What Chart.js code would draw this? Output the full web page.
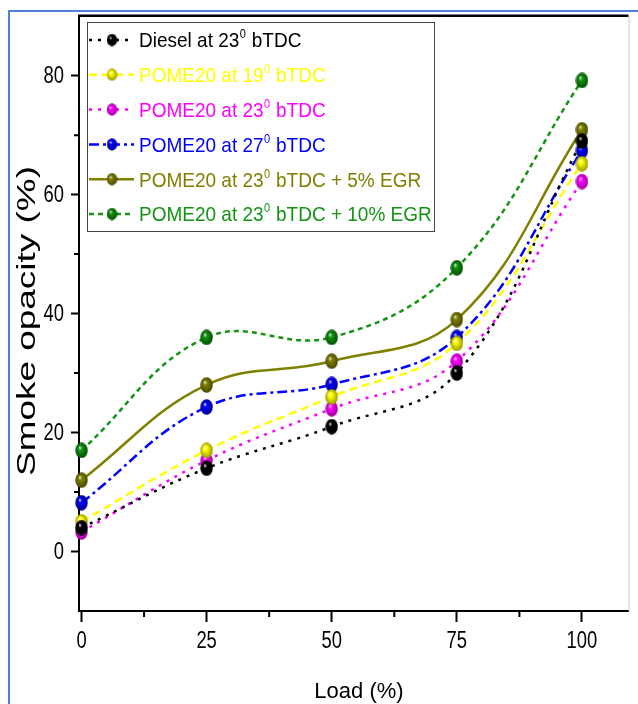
<!DOCTYPE html>
<html lang="en">
<head>
  <meta charset="UTF-8">
  <title>Smoke opacity vs load</title>
  <script src="https://cdn.jsdelivr.net/npm/chart.js"></script>
  <style>
    html, body { margin: 0; padding: 0; background: #fff; }
    #wrap { width: 638px; height: 704px; }
  </style>
</head>
<body>
  <div id="wrap"><canvas id="smokeChart" width="638" height="704"></canvas></div>

  <script>
    // data
    const loads = [0, 25, 50, 75, 100];
    const diesel23 = [4, 14, 21, 30, 69];
    const pome19 = [5, 17, 26, 35, 65.2];
    const pome23 = [3.3, 15.3, 24, 32, 62.2];
    const pome27 = [8.2, 24.3, 28.1, 36, 67.4];
    const pome23egr5 = [12, 28, 32, 39, 70.9];
    const pome23egr10 = [17, 36, 36, 47.7, 79.2];

    const seriesNames = [
      'Diesel at 23⁰ bTDC',
      'POME20 at 19⁰ bTDC',
      'POME20 at 23⁰ bTDC',
      'POME20 at 27⁰ bTDC',
      'POME20 at 23⁰ bTDC + 5% EGR',
      'POME20 at 23⁰ bTDC + 10% EGR'
    ];
    const seriesValues = [diesel23, pome19, pome23, pome27, pome23egr5, pome23egr10];

    const xTicks = [0, 25, 50, 75, 100];
    const yTicks = [0, 20, 40, 60, 80];
    const xMinor = [12.5, 37.5, 62.5, 87.5];
    const yMinor = [10, 30, 50, 70];

    // styles
    const colors = ['#000000', '#ffff00', '#ff00ff', '#0000ff', '#808000', '#149414'];
    const darks = ['#000000', '#9a9a00', '#a000a0', '#000090', '#4a4a00', '#005000'];
    const dashes = [[3, 6], [8, 5], [3, 6], [10, 4, 3, 4], [], [5, 4]];
    const FONT = '"Liberation Sans", Arial, sans-serif';

    function ball(color, dark, w, h) {
      const c = document.createElement('canvas');
      c.width = w; c.height = h;
      const g = c.getContext('2d');
      g.translate(w / 2, h / 2);
      g.scale(1, h / w);
      const r = w / 2 - 0.3;
      const grad = g.createRadialGradient(-r * 0.3, -r * 0.4, 0, 0, 0, r);
      grad.addColorStop(0, '#ffffff');
      grad.addColorStop(0.3, color);
      grad.addColorStop(1, dark);
      g.fillStyle = grad;
      g.beginPath();
      g.arc(0, 0, r, 0, Math.PI * 2);
      g.fill();
      return c;
    }

    const balls = colors.map((c, i) => ball(c, darks[i], 13, 16));
    const legendBalls = colors.map((c, i) => ball(c, darks[i], 11, 13));

    function drawRich(ctx, text, x, y, color) {
      const parts = text.split('⁰');
      ctx.save();
      ctx.translate(x, y);
      ctx.scale(1, 1.1);
      ctx.fillStyle = color;
      ctx.textBaseline = 'alphabetic';
      ctx.textAlign = 'left';
      let cx = 0;
      parts.forEach((p, i) => {
        ctx.font = '19px ' + FONT;
        ctx.fillText(p, cx, 6.8);
        cx += ctx.measureText(p).width;
        if (i < parts.length - 1) {
          ctx.font = '11px ' + FONT;
          ctx.fillText('0', cx + 0.5, -1.5);
          cx += ctx.measureText('0').width + 1;
        }
      });
      ctx.restore();
    }

    // narrow tick label: normal font squeezed sideways
    function narrowText(ctx, text, x, y, align) {
      ctx.save();
      ctx.translate(x, y);
      ctx.scale(0.8, 1);
      ctx.textAlign = align;
      ctx.textBaseline = 'middle';
      ctx.fillText(text, 0, 0);
      ctx.restore();
    }

    const decor = {
      id: 'decor',
      beforeDraw(chart) {
        const ctx = chart.ctx;
        ctx.save();
        ctx.fillStyle = '#fff';
        ctx.fillRect(0, 0, chart.width, chart.height);
        ctx.strokeStyle = '#4f81d4';
        ctx.lineWidth = 2;
        ctx.beginPath();
        ctx.moveTo(9, 704);
        ctx.lineTo(9, 11);
        ctx.lineTo(638, 11);
        ctx.stroke();
        ctx.restore();
      },
      afterDraw(chart) {
        const ctx = chart.ctx;
        const a = chart.chartArea;
        const xs = chart.scales.x, ys = chart.scales.y;
        ctx.save();
        // frame top and right
        ctx.strokeStyle = '#000';
        ctx.lineWidth = 2.5;
        ctx.beginPath();
        ctx.moveTo(a.left - 1, a.top - 0.5);
        ctx.lineTo(a.right, a.top - 0.5);
        ctx.stroke();
        ctx.strokeStyle = '#c8c8c8';
        ctx.lineWidth = 1;
        ctx.beginPath();
        ctx.moveTo(a.right + 0.5, a.top);
        ctx.lineTo(a.right + 0.5, a.bottom);
        ctx.stroke();

        // minor ticks
        ctx.strokeStyle = '#000';
        ctx.lineWidth = 2;
        ctx.beginPath();
        xMinor.forEach(v => {
          const px = xs.getPixelForValue(v);
          ctx.moveTo(px, a.bottom);
          ctx.lineTo(px, a.bottom + 6);
        });
        yMinor.forEach(v => {
          const py = ys.getPixelForValue(v);
          ctx.moveTo(a.left, py);
          ctx.lineTo(a.left - 5, py);
        });
        ctx.stroke();

        // tick labels
        ctx.fillStyle = '#000';
        ctx.font = '23px ' + FONT;
        xs.ticks.forEach(t => narrowText(ctx, String(t.value), xs.getPixelForValue(t.value), 642, 'center'));
        ys.ticks.forEach(t => narrowText(ctx, String(t.value), 64, ys.getPixelForValue(t.value) + 1, 'right'));

        // axis titles
        ctx.font = '22px ' + FONT;
        ctx.textAlign = 'center';
        ctx.textBaseline = 'alphabetic';
        ctx.fillText('Load (%)', 359, 698);

        ctx.save();
        ctx.translate(35, 321);
        ctx.rotate(-Math.PI / 2);
        ctx.font = '25px ' + FONT;
        const yTitle = 'Smoke opacity (%)';
        const w = ctx.measureText(yTitle).width;
        ctx.scale(310 / w, 1);
        ctx.fillText(yTitle, 0, 0);
        ctx.restore();

        // legend
        const lx = 87, ly = 22, lw = 347, lh = 209;
        ctx.fillStyle = '#fff';
        ctx.fillRect(lx, ly, lw, lh);
        ctx.strokeStyle = '#444';
        ctx.lineWidth = 1;
        ctx.strokeRect(lx + 0.5, ly + 0.5, lw, lh);
        seriesNames.forEach((name, i) => {
          const y = 40 + i * 34.8;
          ctx.strokeStyle = colors[i];
          ctx.lineWidth = 2.5;
          ctx.setLineDash(dashes[i]);
          ctx.beginPath();
          ctx.moveTo(89, y);
          ctx.lineTo(134, y);
          ctx.stroke();
          ctx.setLineDash([]);
          const b = legendBalls[i];
          ctx.drawImage(b, 112 - b.width / 2, y - b.height / 2);
          drawRich(ctx, name, 139, y, colors[i]);
        });
        ctx.restore();
      }
    };

    new Chart(document.getElementById('smokeChart'), {
      type: 'line',
      data: {
        datasets: seriesValues.map((vals, i) => ({
          label: seriesNames[i],
          data: loads.map((x, j) => ({ x: x, y: vals[j] })),
          borderColor: colors[i],
          borderWidth: 2.5,
          borderDash: dashes[i],
          tension: 0.4,
          fill: false,
          clip: false,
          pointStyle: balls[i],
          pointRadius: 7,
          pointHoverRadius: 7
        }))
      },
      options: {
        responsive: false,
        animation: false,
        events: [],
        layout: { padding: { top: 15, right: 2, left: 0, bottom: 0 } },
        plugins: {
          legend: { display: false },
          tooltip: { enabled: false }
        },
        scales: {
          x: {
            type: 'linear',
            min: -0.5,
            max: 109.3,
            afterBuildTicks: s => { s.ticks = xTicks.map(v => ({ value: v })); },
            afterFit: s => { s.height = 93; },
            grid: { display: true, drawOnChartArea: false, tickLength: 11, tickWidth: 2, tickColor: '#000' },
            border: { display: true, color: '#000', width: 2 },
            ticks: { color: 'rgba(0,0,0,0)', font: { size: 22 }, maxRotation: 0 }
          },
          y: {
            min: -10,
            max: 90,
            afterBuildTicks: s => { s.ticks = yTicks.map(v => ({ value: v })); },
            afterFit: s => { s.width = 79; },
            grid: { display: true, drawOnChartArea: false, tickLength: 8, tickWidth: 2, tickColor: '#000' },
            border: { display: true, color: '#000', width: 2 },
            ticks: { color: 'rgba(0,0,0,0)', font: { size: 22 } }
          }
        }
      },
      plugins: [decor]
    });
  </script>
</body>
</html>
